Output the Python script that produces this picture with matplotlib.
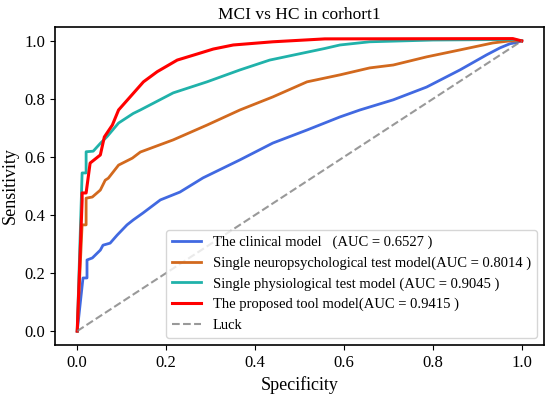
import matplotlib
matplotlib.use("Agg")
import matplotlib.pyplot as plt

plt.rcParams["font.family"] = ["Liberation Serif", "DejaVu Serif"]

# ROC points (false positive rate, sensitivity)
clinical_x = [0.0, 0.013, 0.022, 0.022, 0.034, 0.052, 0.058, 0.074, 0.09, 0.112, 0.126,
              0.148, 0.187, 0.231, 0.283, 0.366, 0.44, 0.517, 0.591, 0.636, 0.711,
              0.786, 0.861, 0.921, 0.951, 0.973, 0.989, 1.0]
clinical_y = [0.0, 0.183, 0.183, 0.245, 0.252, 0.279, 0.296, 0.303, 0.331, 0.366, 0.383,
              0.407, 0.452, 0.479, 0.528, 0.59, 0.648, 0.693, 0.738, 0.762, 0.797,
              0.841, 0.9, 0.952, 0.976, 0.99, 0.995, 1.0]

neuro_x = [0.0, 0.011, 0.02, 0.02, 0.034, 0.052, 0.063, 0.07, 0.093, 0.124, 0.142,
           0.216, 0.292, 0.366, 0.44, 0.517, 0.591, 0.658, 0.711, 0.786, 0.861,
           0.935, 0.973, 1.0]
neuro_y = [0.0, 0.366, 0.366, 0.458, 0.462, 0.486, 0.52, 0.527, 0.572, 0.596, 0.617,
           0.659, 0.71, 0.762, 0.807, 0.859, 0.883, 0.907, 0.917, 0.945, 0.969,
           0.993, 1.0, 1.0]

physio_x = [0.0, 0.011, 0.02, 0.02, 0.036, 0.052, 0.067, 0.093, 0.126, 0.142, 0.216,
            0.292, 0.366, 0.433, 0.557, 0.591, 0.658, 0.8, 0.98, 1.0]
physio_y = [0.0, 0.545, 0.545, 0.618, 0.62, 0.647, 0.67, 0.717, 0.75, 0.762, 0.821,
            0.859, 0.9, 0.934, 0.974, 0.986, 0.997, 1.003, 1.005, 1.0]

tool_x = [0.0, 0.011, 0.011, 0.02, 0.029, 0.052, 0.061, 0.079, 0.093, 0.119, 0.149,
          0.18, 0.225, 0.27, 0.306, 0.351, 0.44, 0.557, 0.98, 1.0]
tool_y = [0.0, 0.45, 0.476, 0.476, 0.579, 0.607, 0.669, 0.71, 0.762, 0.807, 0.859,
          0.894, 0.934, 0.955, 0.972, 0.986, 0.997, 1.007, 1.008, 1.0]

labels = [
    "The clinical model   (AUC = 0.6527 )",
    "Single neuropsychological test model(AUC = 0.8014 )",
    "Single physiological test model (AUC = 0.9045 )",
    "The proposed tool model(AUC = 0.9415 )",
]

fig = plt.figure(figsize=(5.5, 3.97), dpi=100)
ax = fig.add_axes([0.1, 0.131, 0.889, 0.801])

ax.plot(clinical_x, clinical_y, color="#4169E1", lw=2, label=labels[0])
ax.plot(neuro_x, neuro_y, color="#D2691E", lw=2, label=labels[1])
ax.plot(physio_x, physio_y, color="#20B2AA", lw=2, label=labels[2])
ax.plot(tool_x, tool_y, color="red", lw=2.2, label=labels[3])
ax.plot([0, 1], [0, 1], color="gray", lw=1.5, ls="--", alpha=0.8, label="Luck")

ax.set_xlim(-0.05, 1.05)
ax.set_ylim(-0.048, 1.048)
ax.set_title("MCI vs HC in corhort1", fontsize=12.5)
ax.set_xlabel("Specificity", fontsize=13)
ax.set_ylabel("Sensitivity", fontsize=13)
ax.tick_params(labelsize=12)
for s in ax.spines.values():
    s.set_linewidth(1.2)
ax.legend(loc="lower right", fontsize=10.5)

fig.savefig("out.png", dpi=100)
